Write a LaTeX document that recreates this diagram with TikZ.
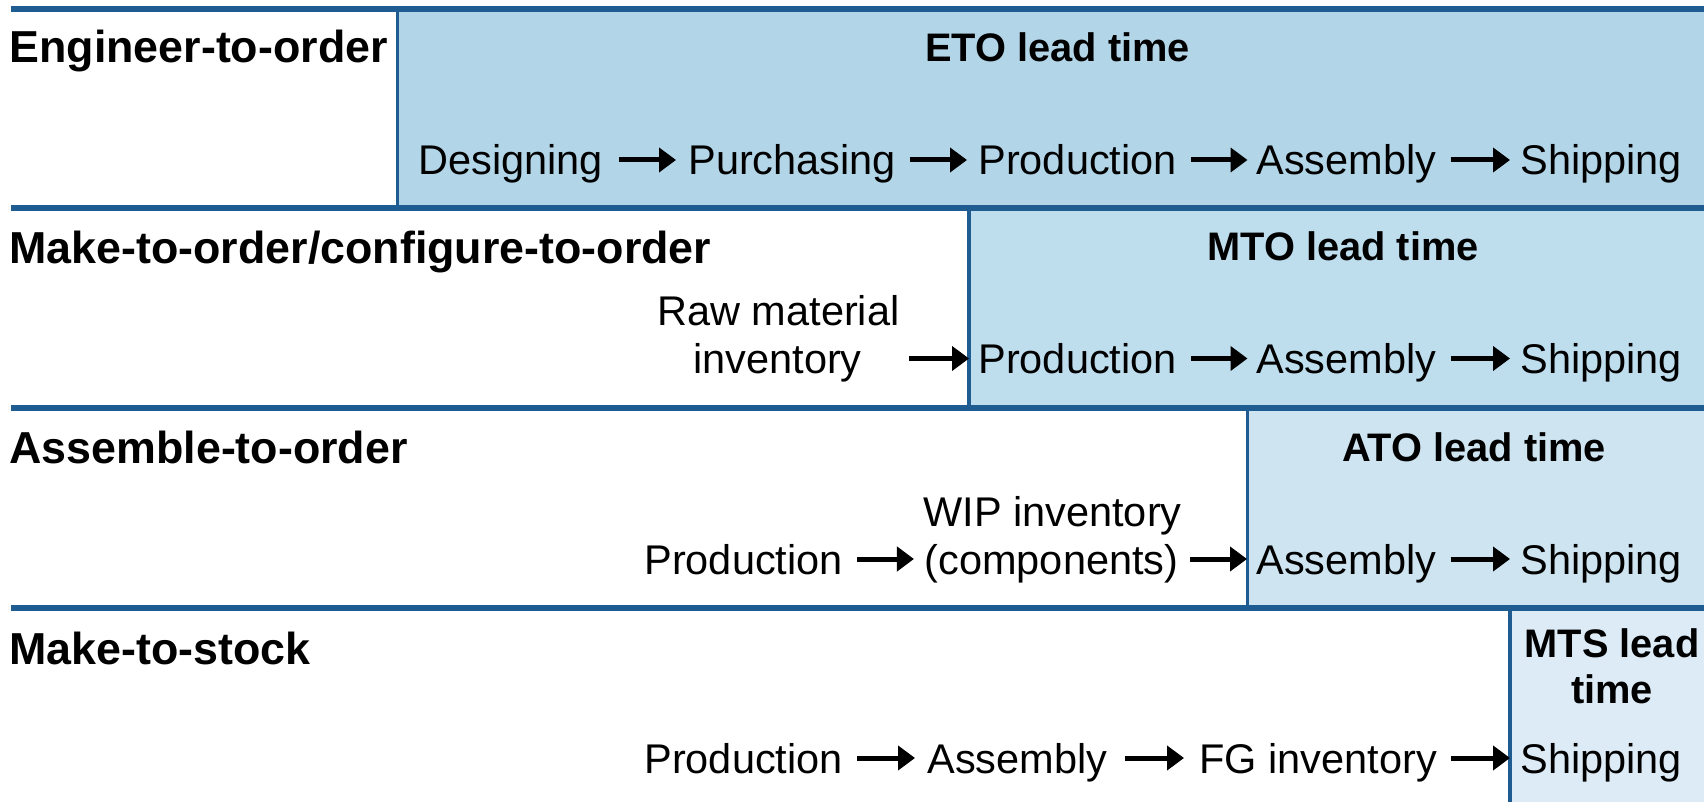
\documentclass[tikz,border=0pt]{standalone}
\usepackage{fontspec}
\setmainfont{Liberation Sans}
\usetikzlibrary{arrows.meta,calc}

\definecolor{rule}{RGB}{30,92,146}
\definecolor{etoblue}{RGB}{178,214,232}
\definecolor{mtoblue}{RGB}{190,222,238}
\definecolor{atoblue}{RGB}{206,229,241}
\definecolor{mtsblue}{RGB}{221,235,246}

\begin{document}
\begin{tikzpicture}[x=0.5pt,y=-0.5pt,
  hrule/.style={draw=rule,line width=3pt},
  vrule/.style={draw=rule,line width=1.8pt},
  title/.style={anchor=base west,inner sep=0pt,font=\fontsize{22.4}{26}\selectfont\bfseries},
  lead/.style={anchor=base,inner sep=0pt,font=\fontsize{19.9}{23}\selectfont\bfseries},
  stage/.style={anchor=base west,inner sep=0pt,font=\fontsize{20.75}{24}\selectfont},
  stagec/.style={anchor=base,inner sep=0pt,font=\fontsize{20.75}{24}\selectfont},
  flow/.style={line width=2.5pt,-{Triangle[length=8.5pt,width=12pt]}},
]
\useasboundingbox (0,0) rectangle (1704,802);

% lead-time bands
\fill[etoblue] (397.5,9.5) rectangle (1704,208);
\fill[mtoblue] (969,208) rectangle (1704,408.5);
\fill[atoblue] (1247.5,408.5) rectangle (1704,608);
\fill[mtsblue] (1510,608) rectangle (1704,802);

% band borders
\draw[vrule] (397.5,9.5) -- (397.5,208);
\draw[vrule] (969,208) -- (969,408.5);
\draw[vrule] (1247.5,408.5) -- (1247.5,608);
\draw[vrule] (1510,608) -- (1510,802);

% row separators
\draw[hrule] (11,9.5) -- (1704,9.5);
\draw[hrule] (11,208) -- (1704,208);
\draw[hrule] (11,408.5) -- (1704,408.5);
\draw[hrule] (11,608) -- (1704,608);

% row titles
\node[title] (t1) at (9,63) {Engineer-to-order};
\node[title] (t2) at (9,264) {Make-to-order/configure-to-order};
\node[title] (t3) at (9,464) {Assemble-to-order};
\node[title] (t4) at (9,664) {Make-to-stock};

% lead-time labels
\node[lead] (l1) at (1057.5,62) {ETO lead time};
\node[lead] (l2) at (1343,261) {MTO lead time};
\node[lead] (l3) at (1474,461) {ATO lead time};
\node[lead] (l4a) at (1612,657) {MTS lead};
\node[lead] (l4b) at (1612,703) {time};

% engineer-to-order chain
\node[stage] (des) at (418,175) {Designing};
\node[stage] (pur) at (688,175) {Purchasing};
\node[stage] (pro1) at (978,175) {Production};
\node[stage] (asm1) at (1256,175) {Assembly};
\node[stage] (shp1) at (1520,175) {Shipping};
\draw[flow] ($(des.base east)+(16,-15)$) -- ($(pur.base west)+(-12,-15)$);
\draw[flow] ($(pur.base east)+(14,-15)$) -- ($(pro1.base west)+(-11,-15)$);
\draw[flow] ($(pro1.base east)+(14,-15)$) -- ($(asm1.base west)+(-8.5,-15)$);
\draw[flow] ($(asm1.base east)+(14,-15)$) -- ($(shp1.base west)+(-10,-15)$);

% make-to-order chain
\node[stagec] (rawa) at (778.5,325.5) {Raw material};
\node[stagec] (rawb) at (777.5,373.5) {inventory};
\node[stage] (pro2) at (978,373.5) {Production};
\node[stage] (asm2) at (1256,373.5) {Assembly};
\node[stage] (shp2) at (1520,373.5) {Shipping};
\draw[flow] ($(rawa.east |- rawb.base)+(9,-15)$) -- ($(pro2.base west)+(-9,-15)$);
\draw[flow] ($(pro2.base east)+(14,-15)$) -- ($(asm2.base west)+(-8.5,-15)$);
\draw[flow] ($(asm2.base east)+(14,-15)$) -- ($(shp2.base west)+(-10,-15)$);

% assemble-to-order chain
\node[stage] (pro3) at (644,574) {Production};
\node[stagec] (wipa) at (1052.5,526) {WIP inventory};
\node[stagec] (wipb) at (1051.5,574) {(components)};
\node[stage] (asm3) at (1256,574) {Assembly};
\node[stage] (shp3) at (1520,574) {Shipping};
\draw[flow] ($(pro3.base east)+(14,-15)$) -- ($(wipa.west |- wipb.base)+(-9,-15)$);
\draw[flow] ($(wipa.east |- wipb.base)+(8,-15)$) -- ($(asm3.base west)+(-9,-15)$);
\draw[flow] ($(asm3.base east)+(14,-15)$) -- ($(shp3.base west)+(-10,-15)$);

% make-to-stock chain
\node[stage] (pro4) at (644,773) {Production};
\node[stage] (asm4) at (927,773) {Assembly};
\node[stage] (fg) at (1199,773) {FG inventory};
\node[stage] (shp4) at (1520,773) {Shipping};
\draw[flow] ($(pro4.base east)+(14,-15)$) -- ($(asm4.base west)+(-12,-15)$);
\draw[flow] ($(asm4.base east)+(17,-15)$) -- ($(fg.base west)+(-15,-15)$);
\draw[flow] ($(fg.base east)+(14,-15)$) -- ($(shp4.base west)+(-10,-15)$);
\end{tikzpicture}
\end{document}
